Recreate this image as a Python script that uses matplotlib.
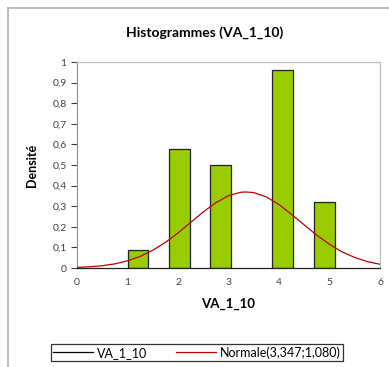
import numpy as np
import matplotlib.pyplot as plt
from matplotlib.lines import Line2D

# histogram bins (left edge, width) and densities
bin_left = [1.00, 1.82, 2.64, 3.87, 4.69]
bin_width = 0.41
density = [0.085, 0.58, 0.50, 0.96, 0.32]

# fitted normal curve
curve_x = [0, 0.25, 0.5, 0.75, 1.0, 1.25, 1.5, 1.75, 2.0, 2.25, 2.5, 2.75, 3.0,
           3.25, 3.35, 3.5, 3.75, 4.0, 4.25, 4.5, 4.75, 5.0, 5.25, 5.5, 5.75, 6.0]
curve_y = [0.003, 0.006, 0.011, 0.020, 0.035, 0.056, 0.086, 0.124, 0.170, 0.221,
           0.272, 0.317, 0.351, 0.368, 0.369, 0.366, 0.345, 0.308, 0.260, 0.209,
           0.159, 0.115, 0.078, 0.051, 0.031, 0.018]

yticks = [0, 0.1, 0.2, 0.3, 0.4, 0.5, 0.6, 0.7, 0.8, 0.9, 1]
ytick_labels = ['0', '0,1', '0,2', '0,3', '0,4', '0,5', '0,6', '0,7', '0,8', '0,9', '1']
xticks = [0, 1, 2, 3, 4, 5, 6]

plt.rcParams['font.family'] = ['Lato', 'DejaVu Sans']

fig = plt.figure(figsize=(3.89, 3.67), dpi=100)

# outer chart border (top and left visible)
fig.add_artist(Line2D([7.5/389, 7.5/389], [0, 1-7.5/367], transform=fig.transFigure,
                      color='#b0b0b0', lw=1.2))
fig.add_artist(Line2D([7.5/389, 1], [1-7.5/367, 1-7.5/367], transform=fig.transFigure,
                      color='#b0b0b0', lw=1.2))

ax = fig.add_axes([77/389, 1-268/367, 303/389, 206/367])

ax.bar(bin_left, density, width=bin_width, align='edge', color='#99cc00',
       edgecolor='#202020', linewidth=0.9, zorder=2)
ax.plot(curve_x, curve_y, color='#c00000', lw=0.9, zorder=3)

ax.set_xlim(0, 6)
ax.set_ylim(0, 1)
ax.set_xticks(xticks)
ax.set_xticklabels([str(v) for v in xticks])
ax.set_yticks(yticks)
ax.set_yticklabels(ytick_labels)
ax.tick_params(axis='both', labelsize=7.5, colors='#404040', length=4, width=0.8,
               direction='out')
ax.tick_params(axis='x', length=0, pad=7)

for side in ['top', 'right']:
    ax.spines[side].set_color('#c0c0c0')
    ax.spines[side].set_linewidth(0.9)
ax.spines['left'].set_color('#909090')
ax.spines['bottom'].set_color('#202020')
ax.spines['bottom'].set_linewidth(0.9)

ax.set_xlabel('VA_1_10', fontsize=9.5, fontweight='bold', labelpad=8)
ax.set_ylabel('Densité', fontsize=9, fontweight='bold', labelpad=10)

fig.text(205/389, 1-33/367, 'Histogrammes (VA_1_10)', ha='center', va='center',
         fontsize=10, fontweight='bold')

handles = [Line2D([], [], color='black', lw=0.9),
           Line2D([], [], color='#c00000', lw=0.9)]
leg = fig.legend(handles, ['VA_1_10', 'Normale(3,347;1,080)'], loc='center',
                 bbox_to_anchor=(197/389, 1-352.5/367), ncol=2, fontsize=9,
                 frameon=True, fancybox=False, handlelength=3.2, handletextpad=0.3,
                 columnspacing=2.3, borderpad=0.15, edgecolor='black')
leg.get_frame().set_linewidth(0.9)

fig.savefig('out.png', dpi=100)
